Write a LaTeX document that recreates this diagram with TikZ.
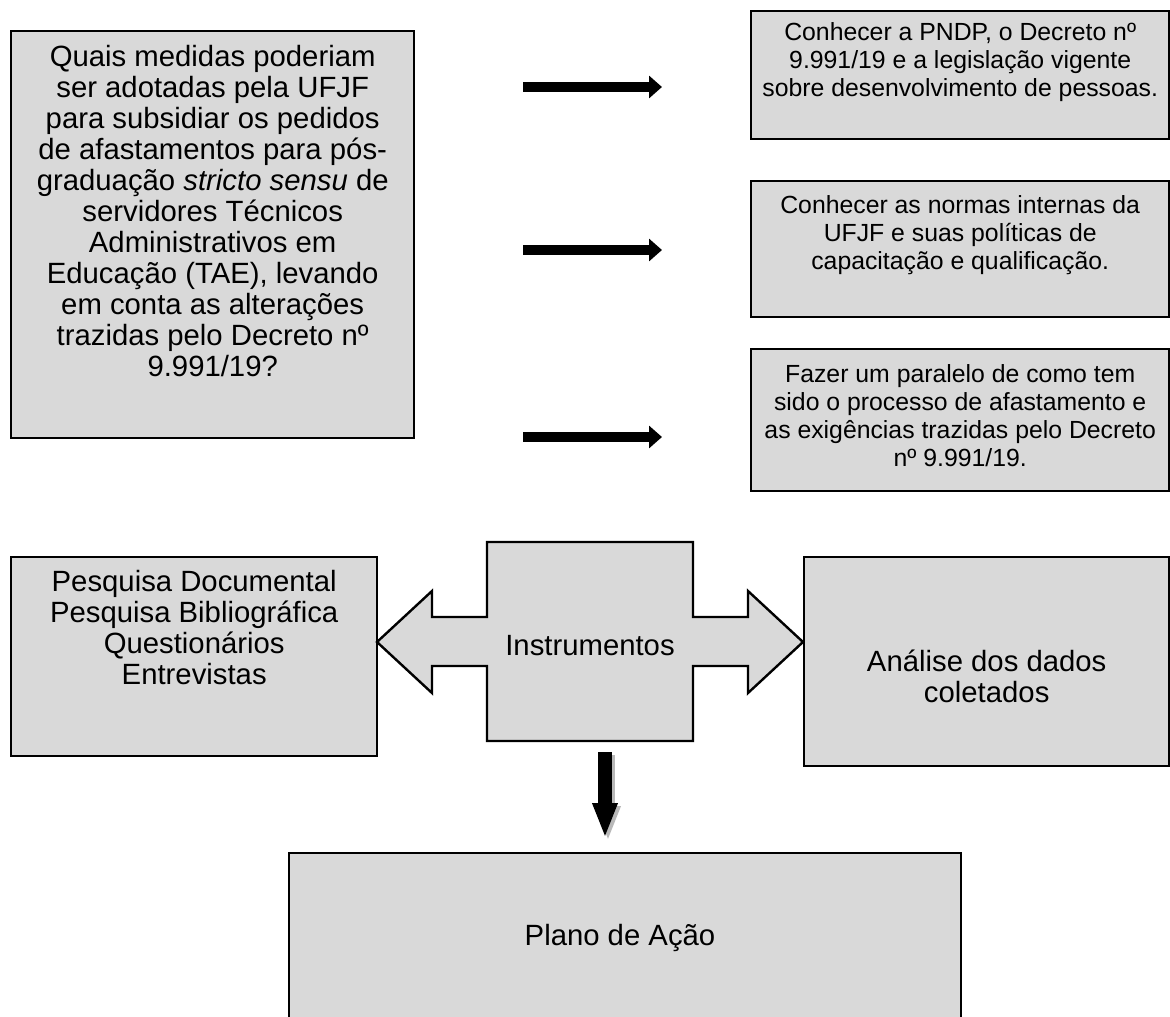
\documentclass[tikz,border=0pt]{standalone}
\usepackage{fontspec}
\setmainfont{Liberation Sans}
\usetikzlibrary{arrows.meta,positioning}
\definecolor{boxgray}{RGB}{217,217,217}
\tikzstyle{box}=[draw,fill=boxgray,line width=2.4pt,inner sep=0pt]
\tikzstyle{bigtext}=[align=center,inner sep=0pt,font=\fontsize{29.3pt}{31pt}\selectfont]
\tikzstyle{smalltext}=[align=center,inner sep=0pt,font=\fontsize{24.8pt}{28pt}\selectfont]
\tikzstyle{fatarrow}=[line width=10pt,-{Triangle[length=13pt,width=22pt]}]
\tikzstyle{downarrow}=[line width=14pt,-{Triangle[length=35pt,width=23pt]}]

\begin{document}
\begin{tikzpicture}[x=1pt,y=-1pt]
    \useasboundingbox (0,0) rectangle (1170,1017);

    % research question
    \node[box,anchor=north west,minimum width=403pt,minimum height=407pt] (question) at (10,30) {};
    \node[bigtext,below=15pt of question.north] (qlabel) {Quais medidas poderiam\\ser adotadas pela UFJF\\para subsidiar os pedidos\\de afastamentos para pós-\\graduação \textit{stricto sensu} de\\servidores Técnicos\\Administrativos em\\Educação (TAE), levando\\em conta as alterações\\trazidas pelo Decreto nº\\9.991/19?};

    % objectives
    \node[box,anchor=north west,minimum width=418pt,minimum height=128pt] (goal1) at (750,10) {};
    \node[smalltext,below=12pt of goal1.north] (g1label) {Conhecer a PNDP, o Decreto nº\\9.991/19 e a legislação vigente\\sobre desenvolvimento de pessoas.};
    \node[box,anchor=north west,minimum width=418pt,minimum height=136pt] (goal2) at (750,180) {};
    \node[smalltext,below=15pt of goal2.north] (g2label) {Conhecer as normas internas da\\UFJF e suas políticas de\\capacitação e qualificação.};
    \node[box,anchor=north west,minimum width=418pt,minimum height=142pt] (goal3) at (750,348) {};
    \node[smalltext,below=16pt of goal3.north] (g3label) {Fazer um paralelo de como tem\\sido o processo de afastamento e\\as exigências trazidas pelo Decreto\\nº 9.991/19.};

    \foreach \y/\n in {87/1,250/2,437/3} {
        \coordinate (a\n s) at (523,\y);
        \coordinate (a\n e) at (662,\y);
        \draw[fatarrow] (a\n s) -- (a\n e);
    }

    % instruments
    \node[box,anchor=north west,minimum width=366pt,minimum height=199pt] (methods) at (10,556) {};
    \node[bigtext,below=14pt of methods.north] (mlabel) {Pesquisa Documental\\Pesquisa Bibliográfica\\Questionários\\Entrevistas};

    \draw[box] (487,542) -- (693,542) -- (693,617) -- (748,617) -- (748,591) -- (803,642)
        -- (748,693) -- (748,666) -- (693,666) -- (693,741) -- (487,741) -- (487,666)
        -- (432,666) -- (432,693) -- (377,642) -- (432,591) -- (432,617) -- (487,617) -- cycle;
    \node[bigtext] (instr) at (590,646) {Instrumentos};

    \node[box,anchor=north west,minimum width=365pt,minimum height=209pt] (analysis) at (803,556) {};
    \node[bigtext,below=94pt of analysis.north] (alabel) {Análise dos dados\\coletados};

    % down arrow with shadow
    \coordinate (dtop) at (605,752);
    \coordinate (dtip) at (605,838);
    \draw[downarrow,gray!55] ([shift={(3,3)}]dtop) -- ([shift={(3,3)}]dtip);
    \draw[downarrow] (dtop) -- (dtip);

    % action plan
    \node[box,anchor=north west,minimum width=672pt,minimum height=170pt] (plan) at (288,852) {};
    \node[bigtext] (plabel) at (620,938) {Plano de Ação};
\end{tikzpicture}
\end{document}
